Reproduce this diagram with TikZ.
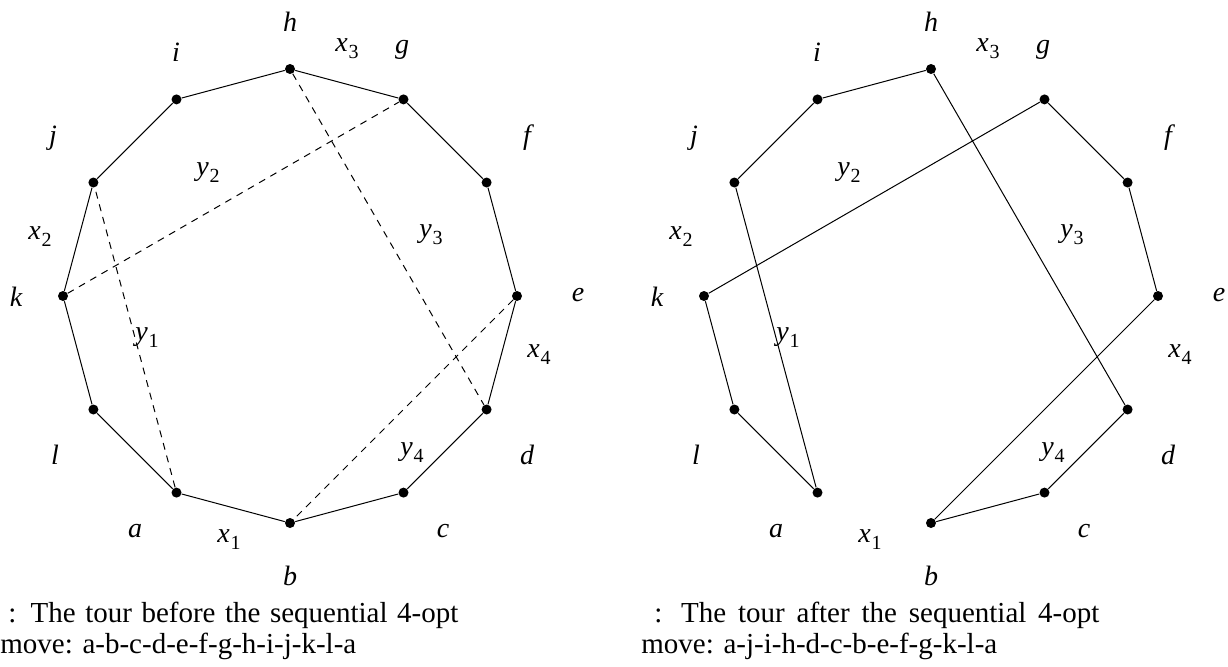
\documentclass[tikz,border=0pt]{standalone}
\usepackage{fontspec}
\setmainfont{Liberation Serif}
\newcommand\sbs[2]{\textit{#1}\kern0.3pt\raisebox{-0.25em}{\fontsize{10}{12}\selectfont\upshape #2}}
\begin{document}
\begin{tikzpicture}[x=0.5pt,y=-0.5pt,
  vdot/.style={circle,fill=black,inner sep=0pt,minimum size=5pt},
  lbl/.style={font=\fontsize{14}{16}\selectfont\itshape,inner sep=0pt},
  tour/.style={line width=0.5pt},
  newedge/.style={line width=0.5pt,dash pattern=on 3.5pt off 3pt},
  captext/.style={font=\fontsize{14.5}{15.5}\selectfont,inner sep=0pt,anchor=base west}]
\useasboundingbox (0,0) rectangle (1228,666);

% ---------- left diagram ----------
\begin{scope}[shift={(290,296)}]
\foreach \n/\ang in {h/90,g/60,f/30,e/0,d/-30,c/-60,b/-90,a/-120,l/-150,k/180,j/150,i/120}
  \node[vdot] (L\n) at (-\ang:227) {};
\end{scope}
\draw[tour] (La)--(Lb)--(Lc)--(Ld)--(Le)--(Lf)--(Lg)--(Lh)--(Li)--(Lj)--(Lk)--(Ll)--(La);
\draw[newedge] (La)--(Lj);
\draw[newedge] (Lk)--(Lg);
\draw[newedge] (Lh)--(Ld);
\draw[newedge] (Le)--(Lb);

% ---------- right diagram ----------
\begin{scope}[shift={(931,296)}]
\foreach \n/\ang in {h/90,g/60,f/30,e/0,d/-30,c/-60,b/-90,a/-120,l/-150,k/180,j/150,i/120}
  \node[vdot] (R\n) at (-\ang:227) {};
\end{scope}
\draw[tour] (Ra)--(Rj)--(Ri)--(Rh)--(Rd)--(Rc)--(Rb)--(Re)--(Rf)--(Rg)--(Rk)--(Rl)--(Ra);

% ---------- labels ----------
\foreach \s/\dx in {L/0,R/641}{
\begin{scope}[xshift=\dx*0.5pt]
\node[lbl] (\s th) at (290,22) {h};
\node[lbl] (\s ti) at (176,52) {i};
\node[lbl] (\s tg) at (402,50) {g};
\node[lbl] (\s tx3) at (347,49) {\sbs{x}{3}};
\node[lbl] (\s tj) at (53,138) {j};
\node[lbl] (\s tf) at (527,138) {f};
\node[lbl] (\s ty2) at (208,173) {\sbs{y}{2}};
\node[lbl] (\s tx2) at (40,237) {\sbs{x}{2}};
\node[lbl] (\s ty3) at (431,235) {\sbs{y}{3}};
\node[lbl] (\s tk) at (16,297) {k};
\node[lbl] (\s te) at (578,295) {e};
\node[lbl] (\s ty1) at (147,338) {\sbs{y}{1}};
\node[lbl] (\s tx4) at (539,355) {\sbs{x}{4}};
\node[lbl] (\s tl) at (55,455) {l};
\node[lbl] (\s ty4) at (412,453) {\sbs{y}{4}};
\node[lbl] (\s td) at (527,455) {d};
\node[lbl] (\s ta) at (135,531) {a};
\node[lbl] (\s tx1) at (229,540) {\sbs{x}{1}};
\node[lbl] (\s tc) at (443,531) {c};
\node[lbl] (\s tb) at (290,576) {b};
\end{scope}}

% ---------- captions ----------
\node[captext] (capL1) at (0,622) {\makebox[229pt][s]{\hspace*{4pt}: The tour before the sequential 4-opt}};
\node[captext] (capL2) at (0,653) {move: a-b-c-d-e-f-g-h-i-j-k-l-a};
\node[captext] (capR1) at (641,622) {\makebox[229pt][s]{\hspace*{6.5pt}: The tour after the sequential 4-opt}};
\node[captext] (capR2) at (641,653) {move: a-j-i-h-d-c-b-e-f-g-k-l-a};
\end{tikzpicture}
\end{document}
